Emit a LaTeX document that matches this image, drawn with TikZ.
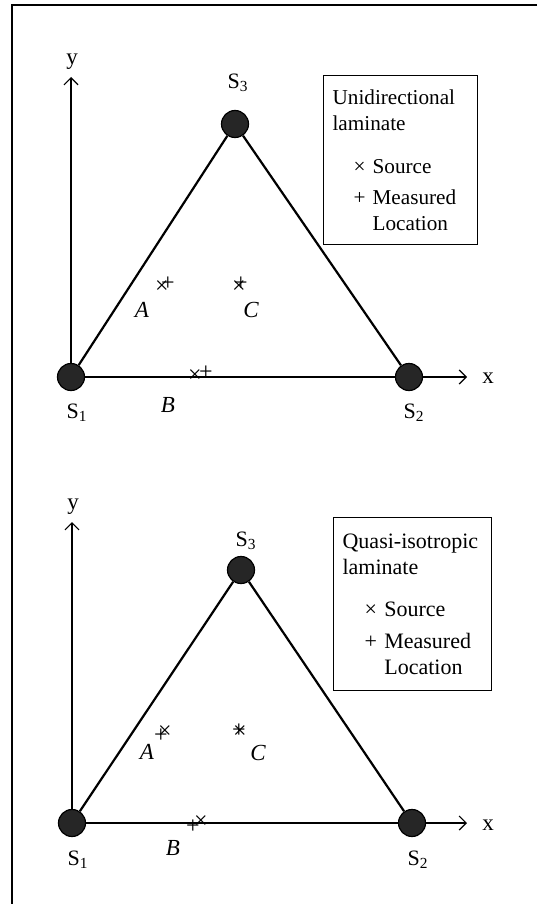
\documentclass[tikz,border=0pt]{standalone}
\usepackage{fontspec}
\setmainfont{Liberation Serif}
\usetikzlibrary{positioning,arrows.meta}

\begin{document}
\begin{tikzpicture}[
  x=0.5pt,y=-0.5pt,
  sensor/.style={circle,draw=black,fill=black!85,line width=0.6pt,
                 minimum size=13.5pt,inner sep=0pt},
  slabel/.style={font=\fontsize{11}{13}\selectfont,inner sep=1pt},
  ptlabel/.style={font=\fontsize{11.5}{13}\selectfont\itshape,inner sep=1pt},
  srcmark/.style={font=\fontsize{12}{12}\selectfont,inner sep=0pt},
  meamark/.style={font=\fontsize{12}{12}\selectfont,inner sep=0pt},
  side/.style={line width=1.1pt},
  axis/.style={line width=0.6pt,-{Straight Barb[length=3.5pt,width=7pt]}},
  axlabel/.style={font=\fontsize{11.5}{13}\selectfont,inner sep=1pt},
  legendbox/.style={draw=black,line width=0.6pt,anchor=north west,align=left,
                    inner ysep=0pt}
]
\useasboundingbox (0,0) rectangle (547,904);
% frame (top and left edges only)
\coordinate (frameTR) at (537,5);
\coordinate (frameTL) at (12,5);
\coordinate (frameBL) at (12,904);
\draw[line width=0.75pt] (frameTR) -- (frameTL) -- (frameBL);

% Unidirectional laminate
\node[sensor] (s1u) at (71,377) {};
\node[sensor] (s2u) at (409,377) {};
\node[sensor] (s3u) at (235,124) {};
\node[slabel] (l1u) at (77,413) {S\textsubscript{1}};
\node[slabel] (l2u) at (414,413) {S\textsubscript{2}};
\node[slabel] (l3u) at (238,83) {S\textsubscript{3}};

\coordinate (ytipu) at (71,77);
\coordinate (xtipu) at (467,377);
\node[axlabel] (ylabu) at (72,62) {y};
\node[axlabel] (xlabu) at (488,378) {x};
\draw[axis] (s1u) -- (ytipu);
\draw[axis] (s2u) -- (xtipu);
\draw[side] (s1u) -- (s2u);
\draw[side] (s2u) -- (s3u);
\draw[side] (s3u) -- (s1u);

\node[srcmark] (srcAu) at (162,287) {×};
\node[meamark] (meaAu) at (168,284) {+};
\node[ptlabel] (labAu) at (142,310) {A};
\node[srcmark] (srcCu) at (239,287) {×};
\node[meamark] (meaCu) at (241,284) {+};
\node[ptlabel] (labCu) at (251,310) {C};
\node[srcmark] (srcBu) at (195,376) {×};
\node[meamark] (meaBu) at (206,373) {+};
\node[ptlabel] (labBu) at (168,405) {B};

\node[legendbox,font=\fontsize{10.6}{13}\selectfont,minimum width=77pt,
      minimum height=84.5pt,text width=68pt,inner xsep=4.5pt] (keyu) at (323,75)
  {Unidirectional\\laminate\\[8.5pt]\hspace*{10.5pt}× Source\\[2.5pt]%
   \hspace*{10.5pt}+ Measured\\\hspace*{10.5pt}\phantom{+ }Location};

% Quasi-isotropic laminate
\node[sensor] (s1q) at (72,823) {};
\node[sensor] (s2q) at (412,823) {};
\node[sensor] (s3q) at (241,570) {};
\node[slabel] (l1q) at (78,860) {S\textsubscript{1}};
\node[slabel] (l2q) at (418,860) {S\textsubscript{2}};
\node[slabel] (l3q) at (246,541) {S\textsubscript{3}};

\coordinate (ytipq) at (72,522);
\coordinate (xtipq) at (467,823);
\node[axlabel] (ylabq) at (73,507) {y};
\node[axlabel] (xlabq) at (488,825) {x};
\draw[axis] (s1q) -- (ytipq);
\draw[axis] (s2q) -- (xtipq);
\draw[side] (s1q) -- (s2q);
\draw[side] (s2q) -- (s3q);
\draw[side] (s3q) -- (s1q);

\node[srcmark] (srcAq) at (165,732) {×};
\node[meamark] (meaAq) at (161,736) {+};
\node[ptlabel] (labAq) at (147,752) {A};
\node[srcmark] (srcCq) at (240,732) {×};
\node[meamark] (meaCq) at (239,731) {+};
\node[ptlabel] (labCq) at (258,753) {C};
\node[srcmark] (srcBq) at (201,822) {×};
\node[meamark] (meaBq) at (193,827) {+};
\node[ptlabel] (labBq) at (173,848) {B};

\node[legendbox,font=\fontsize{11}{13}\selectfont,minimum width=79pt,
      minimum height=86.5pt,text width=70pt,inner xsep=4.5pt] (keyq) at (333,517)
  {\mbox{Quasi-isotropic}\\laminate\\[8pt]\hspace*{11pt}× Source\\[3pt]%
   \hspace*{11pt}+ Measured\\\hspace*{11pt}\phantom{+ }Location};
\end{tikzpicture}
\end{document}
